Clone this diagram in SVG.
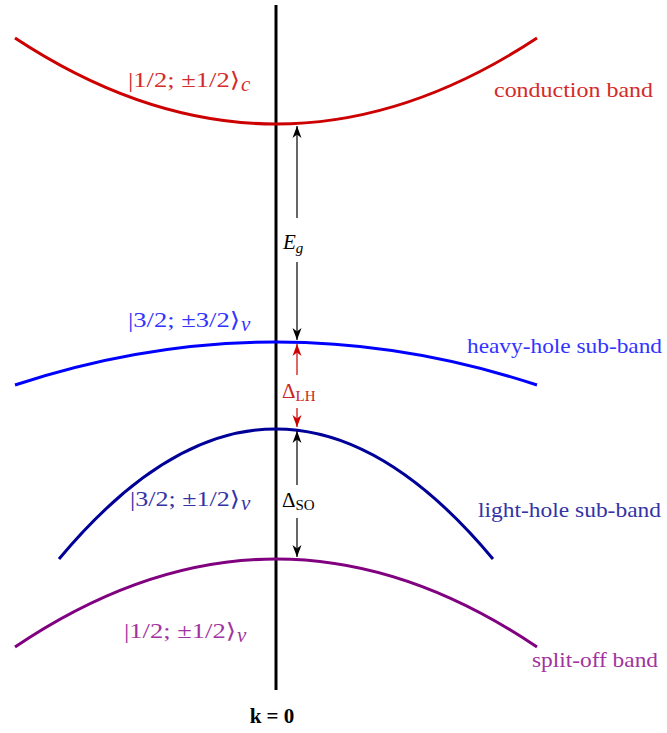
<svg xmlns="http://www.w3.org/2000/svg" width="667" height="733" viewBox="0 0 667 733">
<style>
.band{fill:none;stroke-width:3}
.lbl,.m{font-family:"Liberation Serif","DejaVu Serif",serif;font-size:21px}
.it{font-style:italic}
.arr{stroke-width:1.2;fill:none}
</style>
<defs>
<marker id="ah" viewBox="0 -6 12 12" refX="12" refY="0" markerWidth="12" markerHeight="12" markerUnits="userSpaceOnUse" orient="auto">
<path d="M0,-4.5 L12,0 L0,4.5 L3.5,0 Z" fill="#000"/>
</marker>
<marker id="ahr" viewBox="0 -6 12 12" refX="12" refY="0" markerWidth="12" markerHeight="12" markerUnits="userSpaceOnUse" orient="auto">
<path d="M0,-4.5 L12,0 L0,4.5 L3.5,0 Z" fill="#cc0000"/>
</marker>
</defs>
<rect width="667" height="733" fill="#fff"/>
<g id="axis">
<line x1="276" y1="5" x2="276" y2="690" stroke="#000" stroke-width="3"/>
<text x="272" y="723" class="lbl" font-family="Liberation Serif, serif" text-anchor="middle" font-weight="bold">k = 0</text>
</g>
<g id="conduction">
<path class="band" stroke="#cc0000" d="M15,38 Q276,210 537,38"/>
<text class="m" font-family="Liberation Serif, serif" x="128" y="87" fill="#d42a2a" textLength="112" lengthAdjust="spacingAndGlyphs">|1/2; ±1/2⟩</text>
<text class="m it" font-family="Liberation Serif, serif" x="241" y="91" fill="#d42a2a" font-size="15">c</text>
<text class="lbl" font-family="Liberation Serif, serif" x="494" y="97" fill="#d42a2a" textLength="159" lengthAdjust="spacingAndGlyphs">conduction band</text>
</g>
<g id="heavyhole">
<path class="band" stroke="#0000ff" d="M15,385 Q276,299 537,385"/>
<text class="m" font-family="Liberation Serif, serif" x="128" y="327" fill="#3333ff" textLength="112" lengthAdjust="spacingAndGlyphs">|3/2; ±3/2⟩</text>
<text class="m it" font-family="Liberation Serif, serif" x="241" y="331" fill="#3333ff" font-size="15">v</text>
<text class="lbl" font-family="Liberation Serif, serif" x="467" y="353" fill="#3333ff" textLength="195" lengthAdjust="spacingAndGlyphs">heavy-hole sub-band</text>
</g>
<g id="lighthole">
<path class="band" stroke="#000099" d="M59,559 Q276,299 493,559"/>
<text class="m" font-family="Liberation Serif, serif" x="130" y="506" fill="#3333a6" textLength="110" lengthAdjust="spacingAndGlyphs">|3/2; ±1/2⟩</text>
<text class="m it" font-family="Liberation Serif, serif" x="241" y="510" fill="#3333a6" font-size="15">v</text>
<text class="lbl" font-family="Liberation Serif, serif" x="478" y="517" fill="#3333a6" textLength="183" lengthAdjust="spacingAndGlyphs">light-hole sub-band</text>
</g>
<g id="splitoff">
<path class="band" stroke="#800080" d="M15,647 Q276,471 537,647"/>
<text class="m" font-family="Liberation Serif, serif" x="124" y="638" fill="#a033a0" textLength="112" lengthAdjust="spacingAndGlyphs">|1/2; ±1/2⟩</text>
<text class="m it" font-family="Liberation Serif, serif" x="237" y="642" fill="#a033a0" font-size="15">v</text>
<text class="lbl" font-family="Liberation Serif, serif" x="532" y="667" fill="#a033a0" textLength="126" lengthAdjust="spacingAndGlyphs">split-off band</text>
</g>
<g id="connectors">
<line class="arr" stroke="#000" x1="297" y1="218" x2="297" y2="126" marker-end="url(#ah)"/>
<line class="arr" stroke="#000" x1="297" y1="262" x2="297" y2="340" marker-end="url(#ah)"/>
<line class="arr" stroke="#cc0000" x1="297" y1="375" x2="297" y2="344" marker-end="url(#ahr)"/>
<line class="arr" stroke="#cc0000" x1="297" y1="408" x2="297" y2="427" marker-end="url(#ahr)"/>
<line class="arr" stroke="#000" x1="297" y1="485" x2="297" y2="431" marker-end="url(#ah)"/>
<line class="arr" stroke="#000" x1="297" y1="518" x2="297" y2="557" marker-end="url(#ah)"/>
</g>
<g id="labels">
<text class="m it" font-family="Liberation Serif, serif" x="283" y="249" fill="#000" font-size="22">E<tspan font-size="15" dy="4">g</tspan></text>
<text class="m" font-family="Liberation Serif, serif" x="282" y="398" fill="#cc2222" font-size="22">Δ<tspan font-size="15" dy="3">LH</tspan></text>
<text class="m" font-family="Liberation Serif, serif" x="282" y="507" fill="#000" font-size="22">Δ<tspan font-size="15" dy="3">SO</tspan></text>
</g>
</svg>
